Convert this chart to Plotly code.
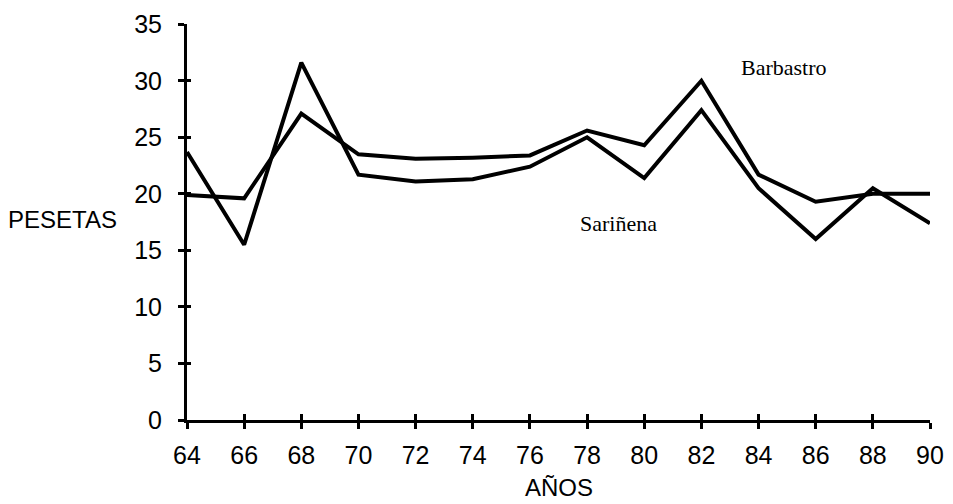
import plotly.graph_objects as go

years = [64, 66, 68, 70, 72, 74, 76, 78, 80, 82, 84, 86, 88, 90]
barbastro = [19.9, 19.6, 27.1, 23.5, 23.1, 23.2, 23.4, 25.6, 24.3, 30.0, 21.7, 19.3, 20.0, 20.0]
sarinena = [23.7, 15.5, 31.6, 21.7, 21.1, 21.3, 22.4, 25.0, 21.4, 27.4, 20.5, 16.0, 20.5, 17.4]
x_ticks = years
y_ticks = [0, 5, 10, 15, 20, 25, 30, 35]

fig = go.Figure()
fig.add_trace(go.Scatter(x=years, y=barbastro, mode="lines", name="Barbastro",
                         line=dict(color="black", width=4)))
fig.add_trace(go.Scatter(x=years, y=sarinena, mode="lines", name="Sariñena",
                         line=dict(color="black", width=4)))
# transparent helper trace so the overlaid axes (inner half of the crossing ticks) are drawn
fig.add_trace(go.Scatter(x=years, y=barbastro, xaxis="x2", yaxis="y2", mode="lines",
                         opacity=0, hoverinfo="skip", showlegend=False))

sans = "Liberation Sans, Arial, sans-serif"
serif = "Liberation Serif, Times New Roman, serif"
tickfont = dict(family=sans, size=25, color="black")
yr = [0, 35.02]
fig.update_layout(
    width=953, height=504,
    margin=dict(l=179, r=31, t=16, b=92),
    paper_bgcolor="white", plot_bgcolor="white",
    showlegend=False,
    xaxis=dict(range=[64, 90], tickvals=x_ticks, ticktext=[str(v) for v in x_ticks],
               automargin=False,
               showgrid=False, zeroline=False, showline=True, linecolor="black", linewidth=3,
               ticks="outside", ticklen=6, tickwidth=2.5, tickcolor="black", tickfont=tickfont,
               ticklabelstandoff=5),
    yaxis=dict(range=yr, tickvals=y_ticks, showgrid=False, zeroline=False,
               automargin=False,
               showline=True, linecolor="black", linewidth=3,
               ticks="outside", ticklen=6, tickwidth=2.5, tickcolor="black", tickfont=tickfont,
               ticklabelstandoff=11),
    xaxis2=dict(range=[64, 90], tickvals=x_ticks, overlaying="x", anchor="y", side="bottom",
                automargin=False,
                showgrid=False, zeroline=False, showline=False, showticklabels=False,
                ticks="inside", ticklen=6, tickwidth=2.5, tickcolor="black"),
    yaxis2=dict(range=yr, tickvals=y_ticks, overlaying="y", anchor="x", side="left",
                automargin=False,
                showgrid=False, zeroline=False, showline=False, showticklabels=False,
                ticks="inside", ticklen=4, tickwidth=2.5, tickcolor="black"),
    annotations=[
        dict(text="Barbastro", x=84.9, y=31.2, xref="x", yref="y", showarrow=False,
             xanchor="center", yanchor="middle",
             font=dict(family=serif, size=22, color="black")),
        dict(text="Sariñena", x=79.1, y=17.4, xref="x", yref="y", showarrow=False,
             xanchor="center", yanchor="middle",
             font=dict(family=serif, size=22, color="black")),
        dict(text="PESETAS", x=-0.167, y=17.7, xref="paper", yref="y", showarrow=False,
             xanchor="center", yanchor="middle",
             font=dict(family=sans, size=24, color="black")),
        dict(text="AÑOS", x=77, y=-0.17, xref="x", yref="paper", showarrow=False,
             xanchor="center", yanchor="middle",
             font=dict(family=sans, size=24, color="black")),
    ],
)

fig.write_html("out.html")
